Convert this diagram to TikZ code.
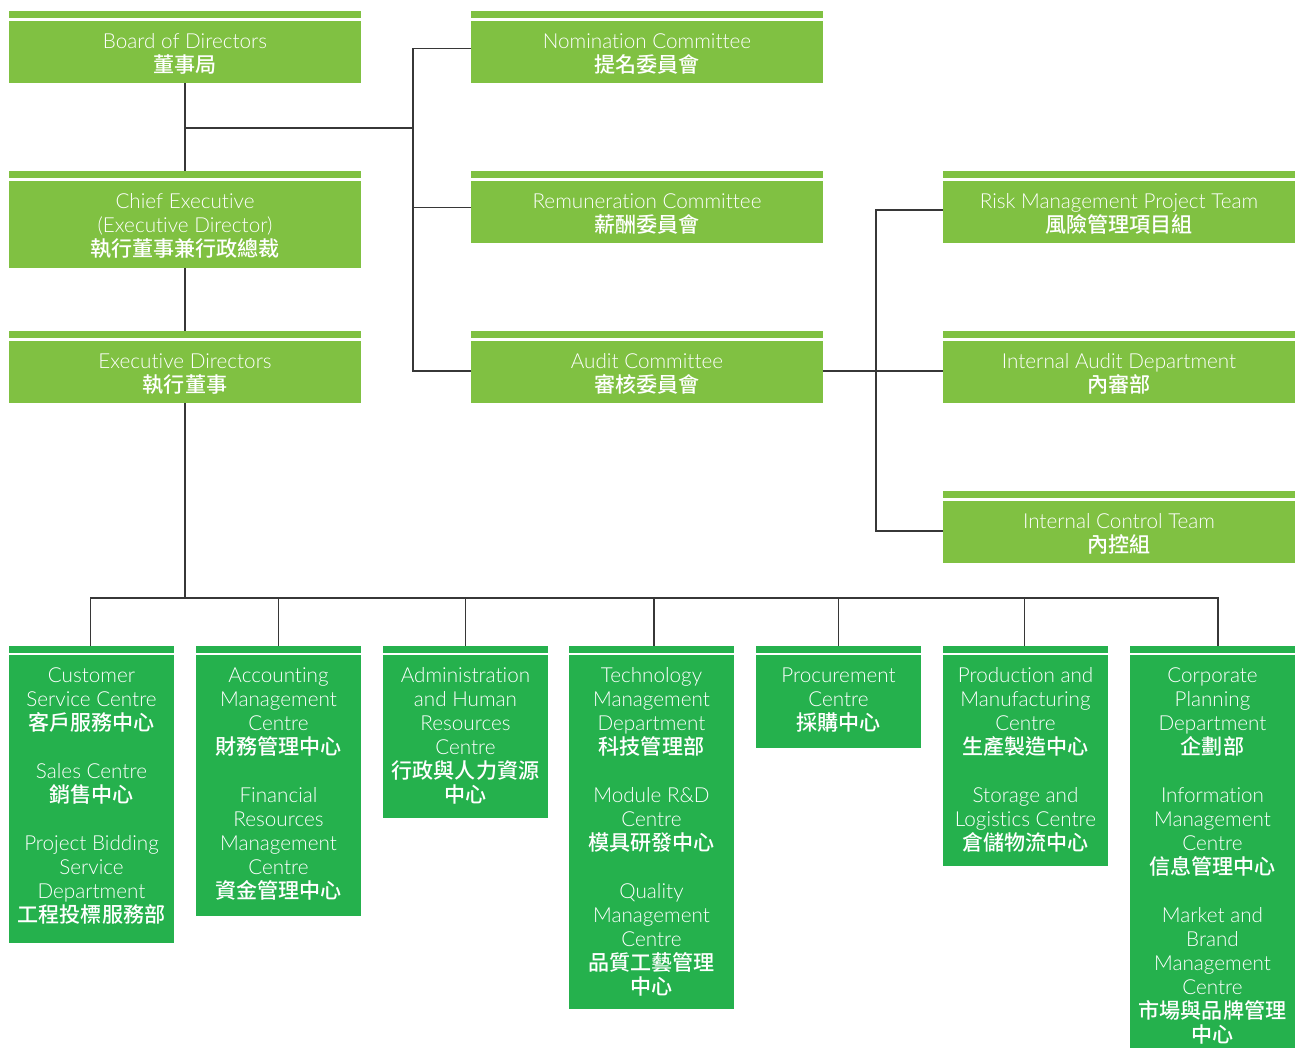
\documentclass[tikz,border=0pt]{standalone}
\usepackage{fontspec}
\setmainfont{Lato}[UprightFont={* Light}, Ligatures={NoCommon}]
\newfontfamily\cjk{Noto Sans CJK TC}[UprightFont={* Medium}]
\definecolor{topg}{RGB}{128,193,66}
\definecolor{botg}{RGB}{37,177,77}
\definecolor{lnc}{RGB}{55,55,55}
\newcommand\zh[1]{{\cjk\fontsize{15.8}{18}\selectfont #1}}
% #1 name, #2 x1, #3 strip top, #4 x2, #5 bottom, #6 colour
\newcommand\gbox[6]{%
  \node[stripbox, fill=#6, minimum width={(#4-#2)*0.75pt}, anchor=north west] (#1s) at (#2,#3) {};
  \node[bodybox, fill=#6, minimum width={(#4-#2)*0.75pt}, minimum height={(#5-#3-9.5)*0.75pt}, anchor=north west] (#1) at (#2,#3+9.5) {};
}
\tikzset{
  stripbox/.style={inner sep=0pt, outer sep=0pt, minimum height=5.25pt, draw=none},
  bodybox/.style={inner sep=0pt, outer sep=0pt, draw=none},
  lbl/.style={text=white, align=center, inner sep=0pt, font=\fontsize{15.5}{18}\selectfont},
  tlbl/.style={lbl, yshift=-1.5pt},
  conn/.style={draw=lnc, line width=1pt},
}
\begin{document}
\begin{tikzpicture}[x=0.75pt,y=-0.75pt]
\useasboundingbox (0,0) rectangle (1295,1051);
% top boxes
\gbox{bod}{9}{11}{361}{83}{topg}
\gbox{ceo}{9}{171}{361}{268}{topg}
\gbox{ed}{9}{331}{361}{403}{topg}
\gbox{nom}{471}{11}{823}{83}{topg}
\gbox{rem}{471}{171}{823}{243}{topg}
\gbox{aud}{471}{331}{823}{403}{topg}
\gbox{risk}{943}{171}{1295}{243}{topg}
\gbox{iad}{943}{331}{1295}{403}{topg}
\gbox{ict}{943}{491}{1295}{563}{topg}
% bottom boxes
\gbox{cust}{9}{645.5}{174}{943}{botg}
\gbox{acc}{196}{645.5}{361}{916}{botg}
\gbox{adm}{383}{645.5}{548}{818}{botg}
\gbox{tech}{569}{645.5}{734}{1009}{botg}
\gbox{proc}{756}{645.5}{921}{748}{botg}
\gbox{prod}{943}{645.5}{1108}{866}{botg}
\gbox{corp}{1130}{645.5}{1295}{1048}{botg}
% labels top
\node[tlbl] at (bod) {Board of Directors\\\zh{董事局}};
\node[tlbl] at (ceo) {Chief Executive\\(Executive Director)\\\zh{執行董事兼行政總裁}};
\node[tlbl] at (ed) {Executive Directors\\\zh{執行董事}};
\node[tlbl] at (nom) {Nomination Committee\\\zh{提名委員會}};
\node[tlbl] at (rem) {Remuneration Committee\\\zh{薪酬委員會}};
\node[tlbl] at (aud) {Audit Committee\\\zh{審核委員會}};
\node[tlbl] at (risk) {Risk Management Project Team\\\zh{風險管理項目組}};
\node[tlbl] at (iad) {Internal Audit Department\\\zh{內審部}};
\node[tlbl] at (ict) {Internal Control Team\\\zh{內控組}};
% labels bottom
\node[lbl, anchor=north] at (cust.north |- 0,665.5) {\strut Customer\\Service Centre\\\zh{客戶服務中心}\\[18pt]Sales Centre\\\zh{銷售中心}\\[18pt]Project Bidding\\Service\\Department\\\zh{工程投標服務部}};
\node[lbl, anchor=north] at (acc.north |- 0,665.5) {\strut Accounting\\Management\\Centre\\\zh{財務管理中心}\\[18pt]Financial\\Resources\\Management\\Centre\\\zh{資金管理中心}};
\node[lbl, anchor=north] at (adm.north |- 0,665.5) {\strut Administration\\and Human\\Resources\\Centre\\\zh{行政與人力資源}\\\zh{中心}};
\node[lbl, anchor=north] at (tech.north |- 0,665.5) {\strut Technology\\Management\\Department\\\zh{科技管理部}\\[18pt]Module R\&D\\Centre\\\zh{模具研發中心}\\[18pt]Quality\\Management\\Centre\\\zh{品質工藝管理}\\\zh{中心}};
\node[lbl, anchor=north] at (proc.north |- 0,665.5) {\strut Procurement\\Centre\\\zh{採購中心}};
\node[lbl, anchor=north] at (prod.north |- 0,665.5) {\strut Production and\\Manufacturing\\Centre\\\zh{生產製造中心}\\[18pt]Storage and\\Logistics Centre\\\zh{倉儲物流中心}};
\node[lbl, anchor=north] at (corp.north |- 0,665.5) {\strut Corporate\\Planning\\Department\\\zh{企劃部}\\[18pt]Information\\Management\\Centre\\\zh{信息管理中心}\\[18pt]Market and\\Brand\\Management\\Centre\\\zh{市場與品牌管理}\\\zh{中心}};
% connectors
\coordinate (b1) at (185,128);
\coordinate (b2) at (413,128);
\coordinate (r1) at (876,371);
\coordinate (b3) at (185,598);
\draw[conn] (bod.south) -- (ceos.north);
\draw[conn] (ceo.south) -- (eds.north);
\draw[conn] (b1) -- (b2);
\draw[conn] ([yshift=2.2pt]nom.west) -| (b2);
\draw[conn] ([yshift=3pt]rem.west) -| (b2);
\draw[conn] ([yshift=0.6pt]aud.west) -| (b2);
\draw[conn] ([yshift=0.6pt]aud.east) -- ([yshift=0.6pt]iad.west);
\draw[conn] ([yshift=1.4pt]risk.west) -| (r1);
\draw[conn] ([yshift=0.6pt]ict.west) -| (r1);
\draw[conn] (ed.south) -- (b3);
\draw[conn] ([xshift=-1pt]custs.north) |- (b3);
\draw[conn] (accs.north) |- (b3);
\draw[conn] (adms.north) |- (b3);
\draw[conn] ([xshift=1.9pt]techs.north) |- (b3);
\draw[conn] (procs.north) |- (b3);
\draw[conn] ([xshift=-1pt]prods.north) |- (b3);
\draw[conn] ([xshift=4pt]corps.north) |- (b3);
\end{tikzpicture}
\end{document}
